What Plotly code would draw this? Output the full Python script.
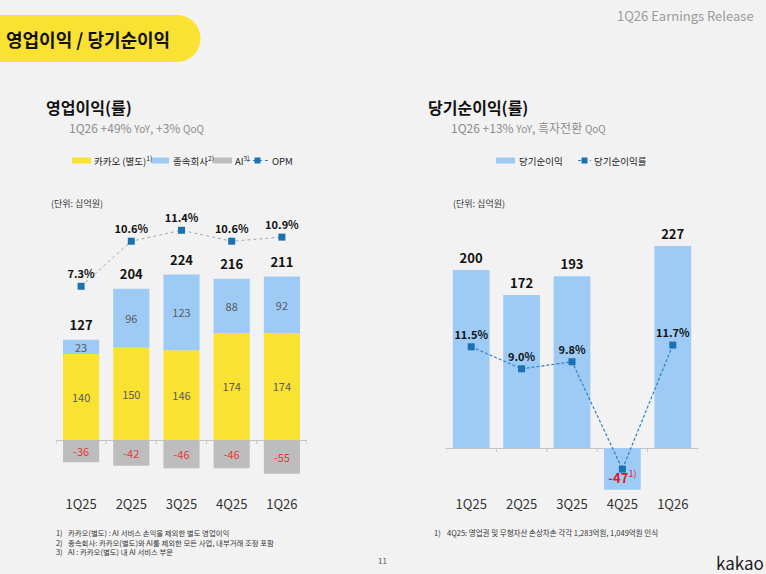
import plotly.graph_objects as go

W, H = 766, 574

# ---------------- data ----------------
quarters = ["1Q25", "2Q25", "3Q25", "4Q25", "1Q26"]
kakao_standalone = [140, 150, 146, 174, 174]
subsidiaries = [23, 96, 123, 88, 92]
ai_segment = [-36, -42, -46, -46, -55]
op_total = [127, 204, 224, 216, 211]
opm = [7.3, 10.6, 11.4, 10.6, 10.9]

net_income = [200, 172, 193, -47, 227]
net_income_notes = ["", "", "", "1)", ""]
net_margin = [11.5, 9.0, 9.8, -2.4, 11.7]
net_margin_labels = ["11.5%", "9.0%", "9.8%", "", "11.7%"]

# ---------------- style ----------------
BG = "#f2f2f2"
YEL = "#f9e231"
BLUE = "#9dcbf6"
GRAY = "#bdbdbd"
RED = "#e8353c"
MARK = "#1a72b3"
FONT = "Noto Sans CJK KR, Noto Sans, sans-serif"


def fx(px):
    return px / W


def fy(py):
    return 1 - py / H


def rng(zero_px, scale, top_px, bot_px):
    return [-(bot_px - zero_px) / scale, (zero_px - top_px) / scale]


TOP, BOT = 150, 495

fig = go.Figure()

# ---------- left chart: operating profit ----------
common_bar = dict(textposition="inside", insidetextanchor="middle", textangle=0,
                  constraintext="none", width=0.72, hoverinfo="skip", showlegend=False,
                  xaxis="x", yaxis="y", cliponaxis=False)
fig.add_trace(go.Bar(x=quarters, y=kakao_standalone, marker=dict(color=YEL, line_width=0),
                     text=[str(v) for v in kakao_standalone],
                     textfont=dict(size=11, color="#5a5a5a"), **common_bar))
fig.add_trace(go.Bar(x=quarters, y=subsidiaries, marker=dict(color=BLUE, line_width=0),
                     text=[str(v) for v in subsidiaries],
                     textfont=dict(size=11, color="#5a5a5a"), **common_bar))
fig.add_trace(go.Bar(x=quarters, y=ai_segment, marker=dict(color=GRAY, line_width=0),
                     text=[str(v) for v in ai_segment],
                     textfont=dict(size=11, color=RED), **common_bar))
fig.add_trace(go.Scatter(x=quarters, y=[k + s for k, s in zip(kakao_standalone, subsidiaries)],
                         mode="markers+text", marker=dict(size=9, opacity=0),
                         text=[f"<b>{v}</b>" for v in op_total],
                         textposition="top center", textfont=dict(size=13, color="#111"),
                         xaxis="x", yaxis="y", showlegend=False, hoverinfo="skip", cliponaxis=False))
fig.add_trace(go.Scatter(x=quarters, y=opm, mode="lines+markers+text",
                         line=dict(color="#93abc0", width=1, dash="dot"),
                         marker=dict(symbol="square", size=7, color=MARK),
                         text=[f"<b>{v:.1f}%</b>" for v in opm], textposition="top center",
                         textfont=dict(size=11, color="#111"),
                         xaxis="x", yaxis="y2", showlegend=False, hoverinfo="skip", cliponaxis=False))

# ---------- right chart: net income ----------
fig.add_trace(go.Bar(x=quarters, y=net_income, marker=dict(color=BLUE, line_width=0),
                     text=[f"<b>{v}</b>" + (f"<sup>{n}</sup>" if n else "")
                           for v, n in zip(net_income, net_income_notes)],
                     textposition=["outside" if v >= 0 else "inside" for v in net_income],
                     insidetextanchor="end", textangle=0, constraintext="none",
                     outsidetextfont=dict(size=13, color="#111"),
                     insidetextfont=dict(size=13, color="#e8141c"),
                     width=0.73, xaxis="x3", yaxis="y3", showlegend=False,
                     hoverinfo="skip", cliponaxis=False))
fig.add_trace(go.Scatter(x=quarters, y=net_margin, mode="lines+markers+text",
                         line=dict(color="#2c80c2", width=1.2, dash="3px,2px"),
                         marker=dict(symbol="square", size=7, color=MARK),
                         text=[f"<b>{t}</b>" if t else " " for t in net_margin_labels],
                         textposition="top center", textfont=dict(size=11, color="#111"),
                         xaxis="x3", yaxis="y4", showlegend=False, hoverinfo="skip", cliponaxis=False))

xcommon = dict(type="category", range=[-0.5, 4.5], showgrid=False, showline=False, ticks="",
               zeroline=False, tickfont=dict(size=13, color="#333"), fixedrange=True)
ycommon = dict(showgrid=False, showline=False, ticks="", showticklabels=False, fixedrange=True)

fig.update_layout(
    width=W, height=H, autosize=False,
    margin=dict(l=0, r=0, t=0, b=0),
    paper_bgcolor=BG, plot_bgcolor=BG,
    font=dict(family=FONT, color="#222"),
    barmode="relative",
    showlegend=False,
    xaxis=dict(domain=[fx(56), fx(307)], anchor="y", **xcommon),
    yaxis=dict(domain=[fy(BOT), fy(TOP)], anchor="x", range=rng(440, 0.615, TOP, BOT),
               zeroline=True, zerolinecolor="#c4c4c4", zerolinewidth=1, **ycommon),
    yaxis2=dict(domain=[fy(BOT), fy(TOP)], anchor="x", overlaying="y",
                range=rng(386, 13.66, TOP, BOT), zeroline=False, visible=False, **ycommon),
    xaxis3=dict(domain=[fx(446), fx(698)], anchor="y3", **xcommon),
    yaxis3=dict(domain=[fy(BOT), fy(TOP)], anchor="x3", range=rng(448, 0.89, TOP, BOT),
                zeroline=True, zerolinecolor="#c4c4c4", zerolinewidth=1, **ycommon),
    yaxis4=dict(domain=[fy(BOT), fy(TOP)], anchor="x3", overlaying="y3",
                range=rng(448, 8.8, TOP, BOT), zeroline=False, visible=False, **ycommon),
)

shapes = []
# category boundary ticks on baselines
for i in range(len(quarters) + 1):
    shapes.append(dict(type="line", xref="x", yref="paper", x0=i - 0.5, x1=i - 0.5,
                       y0=fy(440), y1=fy(444), line=dict(color="#c4c4c4", width=1)))
    shapes.append(dict(type="line", xref="x3", yref="paper", x0=i - 0.5, x1=i - 0.5,
                       y0=fy(448), y1=fy(452), line=dict(color="#c4c4c4", width=1)))

# title pill
shapes.append(dict(type="rect", xref="paper", yref="paper", x0=0, x1=fx(177),
                   y0=fy(62), y1=fy(15), fillcolor=YEL, line_width=0, layer="below"))
shapes.append(dict(type="circle", xref="paper", yref="paper", x0=fx(153.5), x1=fx(200.5),
                   y0=fy(62), y1=fy(15), fillcolor=YEL, line_width=0, layer="below"))


def swatch(x0, x1, color, yc=160.5):
    shapes.append(dict(type="rect", xref="paper", yref="paper", x0=fx(x0), x1=fx(x1),
                       y0=fy(yc + 3), y1=fy(yc - 3), fillcolor=color, line_width=0))


def line_legend(x0, x1, color, yc=160.5):
    shapes.append(dict(type="line", xref="paper", yref="paper", x0=fx(x0), x1=fx(x1),
                       y0=fy(yc), y1=fy(yc), line=dict(color=color, width=1.2, dash="3px,3px")))
    m = (x0 + x1) / 2
    shapes.append(dict(type="rect", xref="paper", yref="paper", x0=fx(m - 3), x1=fx(m + 3),
                       y0=fy(yc + 3), y1=fy(yc - 3), fillcolor=MARK, line_width=0))


swatch(72, 91, YEL)
swatch(151, 169, BLUE)
swatch(213, 232, GRAY)
line_legend(247, 268, "#2c80c2")
swatch(496, 515, BLUE)
line_legend(578, 591, "#2c80c2")

fig.update_layout(shapes=shapes)

annotations = []


def txt(x, y, text, size, color="#222", anchor="left", yanchor="middle", align="left"):
    annotations.append(dict(xref="paper", yref="paper", x=fx(x), y=fy(y), text=text,
                            showarrow=False, xanchor=anchor, yanchor=yanchor, align=align,
                            font=dict(size=size, color=color, family=FONT)))


txt(4, 39, "<b>영업이익 / 당기순이익</b>", 18, "#111")
txt(756, 15, "1Q26 Earnings Release", 13, "#9a9a9a", anchor="right")

txt(44, 107, "<b>영업이익(률)</b>", 16, "#111")
txt(67, 128, "1Q26 +49% <span style='font-size:10px'>YoY</span>, +3% <span style='font-size:10px'>QoQ</span>",
    12, "#8c8c8c")
txt(426, 107, "<b>당기순이익(률)</b>", 16, "#111")
txt(449, 128, "1Q26 +13% <span style='font-size:10px'>YoY</span>, 흑자전환 <span style='font-size:10px'>QoQ</span>",
    12, "#8c8c8c")

# legends
txt(92, 160.5, "카카오 (별도)<sup>1)</sup>", 9.5, "#222")
txt(171, 160.5, "종속회사<sup>2)</sup>", 9.5, "#222")
txt(233, 160.5, "AI<sup>3)</sup>", 9.5, "#222")
txt(270, 160.5, "OPM", 9.5, "#222")
txt(517, 160.5, "당기순이익", 9.5, "#222")
txt(592, 160.5, "당기순이익률", 9.5, "#222")

txt(49, 204, "(단위: 십억원)", 9, "#333")
txt(451, 204, "(단위: 십억원)", 9, "#333")

# footnotes
notes_left = ["카카오(별도) : AI 서비스 손익을 제외한 별도 영업이익",
              "종속회사: 카카오(별도)와 AI를 제외한 모든 사업, 내부거래 조정 포함",
              "AI : 카카오(별도) 내 AI 서비스 부문"]
txt(54, 542, "<br>".join(f"{i + 1})" for i in range(len(notes_left))), 7.4, "#333")
txt(66, 542, "<br>".join(notes_left), 7.4, "#333")
txt(432, 532, "1)", 7.5, "#333")
txt(445, 532, "4Q25: 영업권 및 무형자산 손상차손 각각 1,283억원, 1,049억원 인식", 7.5, "#333")

txt(382, 560, "11", 8, "#555", anchor="center")
txt(740, 562, "kakao", 17, "#1e1e1e", anchor="center")

fig.update_layout(annotations=annotations)

fig.write_html("out.html", config={"displayModeBar": False})
